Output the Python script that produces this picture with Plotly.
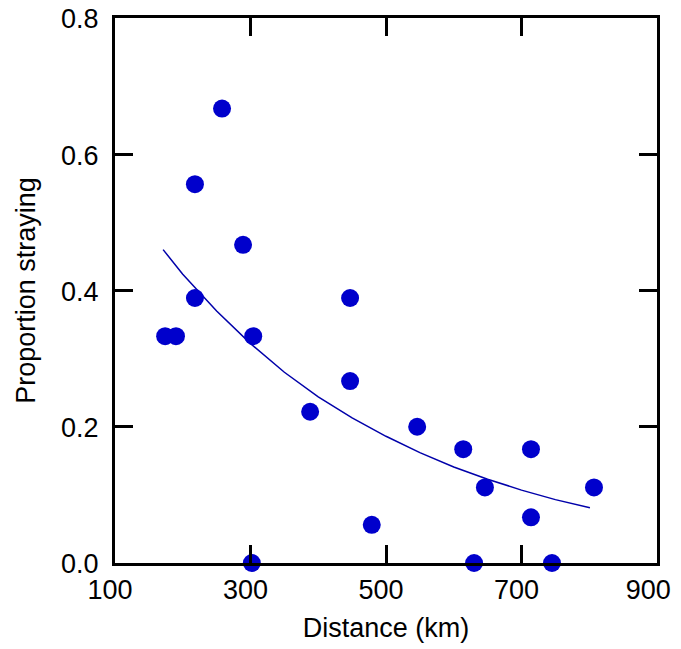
import plotly.graph_objects as go

# observed proportions straying vs distance
distance_km = [258, 218, 289, 218, 174, 190, 304, 447, 447, 388, 546, 614,
               714, 646, 807, 714, 479, 302, 630, 745]
prop_straying = [0.667, 0.556, 0.467, 0.389, 0.333, 0.333, 0.333, 0.389, 0.267,
                 0.222, 0.200, 0.167, 0.167, 0.111, 0.111, 0.067, 0.056, 0.0,
                 0.0, 0.0]

# fitted curve
fit_x = [171, 200, 250, 300, 350, 400, 450, 500, 550, 600, 650, 700, 750, 801]
fit_y = [0.46, 0.424, 0.370, 0.322, 0.280, 0.244, 0.213, 0.186, 0.162, 0.141,
         0.123, 0.107, 0.093, 0.081]

x_ticks = [100, 300, 500, 700, 900]
x_ticktext = ["100", "300", "500", "700", "900\u00a0"]  # nbsp keeps the last label inside the page
y_ticks = [0.0, 0.2, 0.4, 0.6, 0.8]

FONT = "Arial, Liberation Sans, sans-serif"

fig = go.Figure()
fig.add_trace(go.Scatter(
    x=fit_x, y=fit_y, mode="lines",
    line=dict(color="#0000AA", width=1.5),
    hoverinfo="skip",
))
fig.add_trace(go.Scatter(
    x=distance_km, y=prop_straying, mode="markers",
    marker=dict(size=18, color="#0000CC", line=dict(width=0)),
    cliponaxis=False,
))

axis_common = dict(
    showgrid=False, zeroline=False, automargin=False,
    showline=True, linecolor="black", linewidth=3, mirror="allticks",
    ticks="inside", ticklen=18, tickwidth=3, tickcolor="black",
    ticklabeloverflow="allow",
    tickfont=dict(family=FONT, size=27, color="black"),
)

# the page body has an 8px margin, so the figure is 8px smaller than the window
fig.update_layout(
    width=673, height=641,
    margin=dict(l=107, r=24, t=10, b=86),
    paper_bgcolor="white", plot_bgcolor="white",
    showlegend=False,
    font=dict(family=FONT, color="black"),
    xaxis=dict(
        range=[100, 900], tickvals=x_ticks, ticktext=x_ticktext,
        ticklabelstandoff=1, ticklabelshift=-5,
        title=dict(text="Distance (km)", font=dict(family=FONT, size=27), standoff=14),
        **axis_common,
    ),
    yaxis=dict(
        range=[0, 0.8], tickvals=y_ticks, tickformat=".1f",
        ticklabelstandoff=8, ticklabelshift=1,
        title=dict(text="Proportion straying", font=dict(family=FONT, size=27), standoff=18),
        **axis_common,
    ),
)

fig.write_html("out.html")
